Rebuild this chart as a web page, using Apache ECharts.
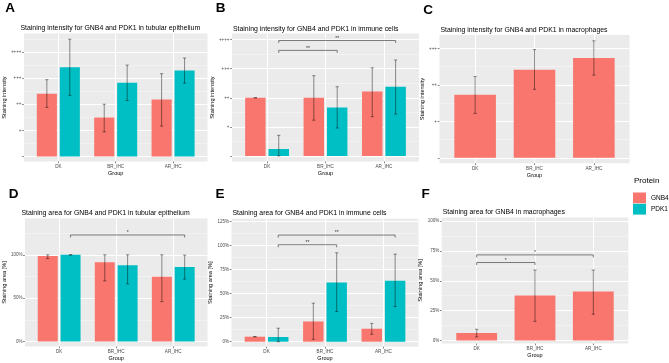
<!DOCTYPE html>
<html><head><meta charset="utf-8">
<script src="https://cdn.jsdelivr.net/npm/echarts@6/dist/echarts.min.js"></script>
<style>html,body{margin:0;padding:0;background:#fff}#c{width:669px;height:363px}</style>
</head><body><div id="c"></div>
<script>
// ---------------- data ----------------
const categories = ['DK', 'BR_IHC', 'AR_IHC'];
const proteins = ['GNB4', 'PDK1'];
const intensityTicks = [0, 1, 2, 3, 4];
const intensityTickLabels = ['', '+', '++', '+++', '++++'];

// A: staining intensity, tubular epithelium
const aGNB4 = [2.40, 1.49, 2.18];
const aGNB4Lo = [1.88, 0.94, 1.16];
const aGNB4Hi = [2.94, 2.00, 3.17];
const aPDK1 = [3.42, 2.82, 3.29];
const aPDK1Lo = [2.34, 2.14, 2.81];
const aPDK1Hi = [4.49, 3.50, 3.77];

// B: staining intensity, immune cells
const bGNB4 = [2.00, 2.00, 2.22];
const bGNB4Lo = [2.00, 1.23, 1.35];
const bGNB4Hi = [2.00, 2.76, 3.03];
const bPDK1 = [0.24, 1.67, 2.38];
const bPDK1Lo = [0.00, 0.96, 1.44];
const bPDK1Hi = [0.71, 2.38, 3.30];
const bSigFrom = ['DK', 'DK'];
const bSigTo = ['BR_IHC', 'AR_IHC'];
const bSigY = [3.63, 3.97];
const bSigLabel = ['**', '**'];

// C: staining intensity, macrophages (GNB4 only)
const cGNB4 = [1.73, 2.42, 2.74];
const cGNB4Lo = [1.22, 1.88, 2.27];
const cGNB4Hi = [2.23, 2.97, 3.21];

// D: staining area, tubular epithelium
const dTicks = [0, 0.5, 1];
const dTickLabels = ['0%', '50%', '100%'];
const dGNB4 = [0.988, 0.915, 0.746];
const dGNB4Lo = [0.957, 0.700, 0.460];
const dGNB4Hi = [1.000, 1.000, 1.000];
const dPDK1 = [1.000, 0.880, 0.860];
const dPDK1Lo = [1.000, 0.665, 0.720];
const dPDK1Hi = [1.000, 1.000, 0.997];
const dSigFrom = ['DK'];
const dSigTo = ['AR_IHC'];
const dSigY = [1.23];
const dSigLabel = ['*'];

// E: staining area, immune cells
const eTicks = [0, 0.25, 0.5, 0.75, 1, 1.25];
const eTickLabels = ['0%', '25%', '50%', '75%', '100%', '125%'];
const eGNB4 = [0.052, 0.210, 0.135];
const eGNB4Lo = [0.052, 0.025, 0.077];
const eGNB4Hi = [0.052, 0.400, 0.190];
const ePDK1 = [0.049, 0.615, 0.632];
const ePDK1Lo = [0.000, 0.313, 0.365];
const ePDK1Hi = [0.140, 0.924, 0.910];
const eSigFrom = ['DK', 'DK'];
const eSigTo = ['BR_IHC', 'AR_IHC'];
const eSigY = [1.007, 1.108];
const eSigLabel = ['**', '**'];

// F: staining area, macrophages (GNB4 only)
const fTicks = [0, 0.25, 0.5, 0.75, 1];
const fTickLabels = ['0%', '25%', '50%', '75%', '100%'];
const fGNB4 = [0.063, 0.377, 0.410];
const fGNB4Lo = [0.030, 0.160, 0.220];
const fGNB4Hi = [0.094, 0.590, 0.590];
const fSigFrom = ['DK', 'DK'];
const fSigTo = ['BR_IHC', 'AR_IHC'];
const fSigY = [0.653, 0.717];
const fSigLabel = ['*', '*'];

// ---------------- styling / layout ----------------
const FONT = '"Liberation Sans", Arial, sans-serif';
const COLORS = { GNB4: '#F8766D', PDK1: '#00BFC4' };
const DODGE = 0.2;

const panels = [
  { letter: 'A', letterPos: [10, 8.7], title: 'Staining intensity for GNB4 and PDK1 in tubular epithelium', titleY: 28.3,
    box: [19.5, 33.5, 188, 128], yMin: -0.195, yMax: 4.71, ticks: intensityTicks, tickLabels: intensityTickLabels,
    minor: [0.5, 1.5, 2.5, 3.5, 4.5], yName: 'Staining intensity', nameGap: 12.5,
    series: [{ name: 'GNB4', mean: aGNB4, lo: aGNB4Lo, hi: aGNB4Hi }, { name: 'PDK1', mean: aPDK1, lo: aPDK1Lo, hi: aPDK1Hi }],
    sig: null },
  { letter: 'B', letterPos: [220.5, 8], title: 'Staining intensity for GNB4 and PDK1 in immune cells', titleY: 29,
    box: [232, 33.5, 187, 128], yMin: -0.19, yMax: 4.21, ticks: intensityTicks, tickLabels: intensityTickLabels,
    minor: [0.5, 1.5, 2.5, 3.5], yName: 'Staining intensity', nameGap: 12.2,
    series: [{ name: 'GNB4', mean: bGNB4, lo: bGNB4Lo, hi: bGNB4Hi }, { name: 'PDK1', mean: bPDK1, lo: bPDK1Lo, hi: bPDK1Hi }],
    sig: { from: bSigFrom, to: bSigTo, y: bSigY, label: bSigLabel, protein: 'PDK1' } },
  { letter: 'C', letterPos: [428, 10], title: 'Staining intensity for GNB4 and PDK1 in macrophages', titleY: 30,
    box: [439.5, 35, 190, 128.3], yMin: -0.15, yMax: 3.37, ticks: [0, 1, 2, 3], tickLabels: ['', '+', '++', '+++'],
    minor: [0.5, 1.5, 2.5], yName: 'Staining intensity', nameGap: 11.5,
    series: [{ name: 'GNB4', mean: cGNB4, lo: cGNB4Lo, hi: cGNB4Hi }],
    sig: null },
  { letter: 'D', letterPos: [13.5, 194.7], title: 'Staining area for GNB4 and PDK1 in tubular epithelium', titleY: 213.3,
    box: [20.5, 218.5, 187, 128], yMin: -0.058, yMax: 1.42, ticks: dTicks, tickLabels: dTickLabels,
    minor: [0.25, 0.75, 1.25], yName: 'Staining area [%]', nameGap: 14.4,
    series: [{ name: 'GNB4', mean: dGNB4, lo: dGNB4Lo, hi: dGNB4Hi }, { name: 'PDK1', mean: dPDK1, lo: dPDK1Lo, hi: dPDK1Hi }],
    sig: { from: dSigFrom, to: dSigTo, y: dSigY, label: dSigLabel, protein: 'PDK1' } },
  { letter: 'E', letterPos: [220, 193.8], title: 'Staining area for GNB4 and PDK1 in immune cells', titleY: 213.3,
    box: [231.5, 218.7, 187, 128], yMin: -0.052, yMax: 1.278, ticks: eTicks, tickLabels: eTickLabels,
    minor: [0.125, 0.375, 0.625, 0.875, 1.125], yName: 'Staining area [%]', nameGap: 13.7,
    series: [{ name: 'GNB4', mean: eGNB4, lo: eGNB4Lo, hi: eGNB4Hi }, { name: 'PDK1', mean: ePDK1, lo: ePDK1Lo, hi: ePDK1Hi }],
    sig: { from: eSigFrom, to: eSigTo, y: eSigY, label: eSigLabel, protein: 'PDK1' } },
  { letter: 'F', letterPos: [425.5, 193.8], title: 'Staining area for GNB4 in macrophages', titleY: 212.3,
    box: [441.7, 217.5, 186.6, 126], yMin: -0.025, yMax: 1.03, ticks: fTicks, tickLabels: fTickLabels,
    minor: [0.125, 0.375, 0.625, 0.875], yName: 'Staining area [%]', nameGap: 13.6,
    series: [{ name: 'GNB4', mean: fGNB4, lo: fGNB4Lo, hi: fGNB4Hi }],
    sig: { from: fSigFrom, to: fSigTo, y: fSigY, label: fSigLabel, protein: 'GNB4' } }
];

const grid = [], xAxis = [], yAxis = [], series = [], graphic = [];
const catX = c => categories.indexOf(c) + 1;

panels.forEach((p, gi) => {
  const dodged = p.series.length > 1;
  grid.push({ left: p.box[0], top: p.box[1], width: p.box[2], height: p.box[3], show: true,
    backgroundColor: '#EBEBEB', borderWidth: 0 });
  xAxis.push({ type: 'value', gridIndex: gi, min: 0.4, max: 3.6,
    name: 'Group', nameLocation: 'middle', nameGap: 9,
    nameTextStyle: { fontSize: 5.5, color: '#000', fontFamily: FONT },
    axisLine: { show: false, onZero: false },
    axisTick: { show: true, length: 1.8, customValues: [1, 2, 3], lineStyle: { color: '#333', width: 0.6 } },
    axisLabel: { customValues: [1, 2, 3], formatter: v => categories[Math.round(v) - 1],
      fontSize: 4.6, color: '#4D4D4D', margin: 3, fontFamily: FONT },
    splitLine: { show: true, lineStyle: { color: '#FFFFFF', width: 1 } } });
  yAxis.push({ type: 'value', gridIndex: gi, min: p.yMin, max: p.yMax,
    name: p.yName, nameLocation: 'middle', nameRotate: 90, nameGap: p.nameGap,
    nameTextStyle: { fontSize: 5.6, color: '#000', fontFamily: FONT },
    axisLine: { show: false, onZero: false },
    axisTick: { show: true, length: 1.8, customValues: p.ticks, lineStyle: { color: '#333', width: 0.6 } },
    axisLabel: { customValues: p.ticks, fontSize: 4.5, color: '#4D4D4D', margin: 2.5, fontFamily: FONT,
      formatter: v => { const k = p.ticks.findIndex(t => Math.abs(t - v) < 1e-6); return k >= 0 ? p.tickLabels[k] : ''; } },
    splitLine: { show: true, lineStyle: { color: '#FFFFFF', width: 1 } } });
  yAxis.push({ type: 'value', gridIndex: gi, min: p.yMin, max: p.yMax, position: 'left',
    axisLine: { show: false, onZero: false }, axisTick: { show: false, customValues: p.minor },
    axisLabel: { show: false, customValues: p.minor },
    splitLine: { show: true, lineStyle: { color: 'rgba(255,255,255,0.7)', width: 0.5 } } });

  p.series.forEach((s, si) => {
    const off = dodged ? (si === 0 ? -DODGE : DODGE) : 0;
    series.push({ type: 'bar', name: s.name, xAxisIndex: gi, yAxisIndex: 2 * gi, silent: true,
      barWidth: dodged ? '35%' : '70%', barGap: '14.3%',
      itemStyle: { color: COLORS[s.name] },
      data: s.mean.map((v, i) => [i + 1, v]) });
    series.push({ type: 'custom', xAxisIndex: gi, yAxisIndex: 2 * gi, silent: true, z: 4,
      encode: { x: 0, y: [1, 2] },
      data: s.lo.map((l, i) => [i + 1, l, s.hi[i]]),
      renderItem: (params, api) => {
        const unit = api.size([1, 0])[0];
        const x = api.coord([api.value(0), 0])[0] + off * unit;
        const yLo = api.coord([api.value(0), api.value(1)])[1];
        const yHi = api.coord([api.value(0), api.value(2)])[1];
        const cap = 1.6;
        const style = { stroke: 'rgba(0,0,0,0.55)', lineWidth: 0.8 };
        return { type: 'group', children: [
          { type: 'line', shape: { x1: x, y1: yLo, x2: x, y2: yHi }, style },
          { type: 'line', shape: { x1: x - cap, y1: yLo, x2: x + cap, y2: yLo }, style },
          { type: 'line', shape: { x1: x - cap, y1: yHi, x2: x + cap, y2: yHi }, style }
        ] };
      } });
  });

  if (p.sig) {
    const sg = p.sig;
    const off = dodged ? (sg.protein === 'GNB4' ? -DODGE : DODGE) : 0;
    series.push({ type: 'custom', xAxisIndex: gi, yAxisIndex: 2 * gi, silent: true, z: 4,
      encode: { x: [0, 1], y: 2 },
      data: sg.from.map((f, i) => [catX(f), catX(sg.to[i]), sg.y[i]]),
      renderItem: (params, api) => {
        const unit = api.size([1, 0])[0];
        const y = api.coord([1, api.value(2)])[1];
        const x1 = api.coord([api.value(0), 0])[0] + off * unit;
        const x2 = api.coord([api.value(1), 0])[0] + off * unit;
        const tip = 2.5;
        return { type: 'group', children: [
          { type: 'polyline', shape: { points: [[x1, y + tip], [x1, y], [x2, y], [x2, y + tip]] },
            style: { stroke: '#5A5A5A', lineWidth: 0.8, fill: 'none' } },
          { type: 'text', x: (x1 + x2) / 2, y: y + 0.5,
            style: { text: sg.label[params.dataIndex], fill: '#333', font: '5px ' + FONT, align: 'center', verticalAlign: 'bottom' } }
        ] };
      } });
  }

  graphic.push({ type: 'text', x: p.letterPos[0], y: p.letterPos[1], silent: true,
    style: { text: p.letter, fill: '#000', font: 'bold 13.5px ' + FONT, align: 'center', verticalAlign: 'middle' } });
  graphic.push({ type: 'text', x: p.box[0] + 1, y: p.titleY, silent: true,
    style: { text: p.title, fill: '#000', font: '6.9px ' + FONT, align: 'left', verticalAlign: 'middle' } });
});

graphic.push({ type: 'text', x: 634, y: 181, silent: true,
  style: { text: 'Protein', fill: '#000', font: '8px ' + FONT, align: 'left', verticalAlign: 'middle' } });

const chart = echarts.init(document.getElementById('c'), null, { renderer: 'canvas' });
chart.setOption({
  animation: false,
  textStyle: { fontFamily: FONT },
  grid, xAxis, yAxis, series, graphic,
  legend: { data: proteins, orient: 'vertical', left: 633, top: 192.5, padding: 0,
    itemWidth: 13, itemHeight: 10.8, itemGap: 0.5, icon: 'rect', selectedMode: false,
    textStyle: { fontSize: 6.5, color: '#000', fontFamily: FONT } }
});
</script>
</body></html>
